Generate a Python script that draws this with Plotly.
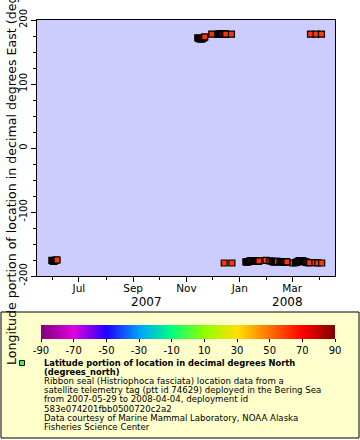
import plotly.graph_objects as go

# ---- data ----
times = [
    "2007-05-31", "2007-06-01", "2007-06-02", "2007-06-03", "2007-06-04", "2007-06-05", "2007-06-06",
    "2007-11-14", "2007-11-15", "2007-11-16", "2007-11-17", "2007-11-18", "2007-11-19", "2007-11-20",
    "2007-11-21", "2007-11-22",
    "2007-11-30",
    "2007-12-07", "2007-12-08", "2007-12-09", "2007-12-10", "2007-12-11", "2007-12-12", "2007-12-13",
    "2007-12-14 06:00", "2007-12-14 18:00", "2007-12-15", "2007-12-16",
    "2007-12-22 12:00", "2007-12-23",
    "2008-01-08", "2008-01-09", "2008-01-10", "2008-01-11", "2008-01-12", "2008-01-13", "2008-01-14",
    "2008-01-15", "2008-01-16", "2008-01-17", "2008-01-18", "2008-01-19", "2008-01-20", "2008-01-21",
    "2008-01-22", "2008-01-23",
    "2008-01-31",
    "2008-02-04 12:00",
    "2008-02-07", "2008-02-08", "2008-02-09", "2008-02-10", "2008-02-11", "2008-02-12", "2008-02-13",
    "2008-02-16", "2008-02-17", "2008-02-18", "2008-02-19", "2008-02-20", "2008-02-21", "2008-02-22",
    "2008-02-23", "2008-02-24",
    "2008-03-02",
    "2008-03-05", "2008-03-06", "2008-03-07", "2008-03-08", "2008-03-09", "2008-03-10", "2008-03-11",
    "2008-03-12", "2008-03-13", "2008-03-14", "2008-03-15", "2008-03-16", "2008-03-17", "2008-03-18",
    "2008-03-19", "2008-03-20", "2008-03-21",
    "2008-03-22",
    "2008-03-27",
    "2008-03-28 12:00",
    "2008-03-30 06:00",
    "2008-04-03 12:00", "2008-04-03 18:00",
]
lons = [
    -175.5, -176.5, -177.0, -176.5, -175.5, -175.0, -175.0,
    172.0, 171.5, 171.0, 170.5, 170.5, 171.0, 171.5,
    172.5, 173.5,
    178.0,
    178.0, 177.5, 178.0, 178.5, 178.0, 177.5, 178.0,
    -179.7, 178.0, 178.0, 178.0,
    178.0, -179.7,
    -178.0, -178.0, -178.0, -177.5, -177.0, -176.5, -176.0,
    -176.0, -176.0, -176.0, -176.5, -177.0, -177.0, -177.0,
    -177.0, -176.5,
    -175.5,
    -176.5,
    -177.0, -177.5, -178.0, -178.0, -177.5, -177.0, -177.0,
    -177.5, -178.0, -178.0, -178.5, -178.0, -177.5, -178.0,
    -178.0, -178.0,
    -179.7,
    -179.0, -178.5, -178.0, -177.0, -176.5, -176.0, -176.0,
    -176.0, -176.5, -177.0, -177.5, -178.0, -178.5, -178.5,
    -179.0, -179.0, -179.0,
    178.0,
    -179.0,
    178.0,
    -179.5,
    178.0, -179.7,
]
lats = [
    59.8, 59.9, 60.0, 60.1, 60.2, 60.2, 60.3,
    60.5, 60.6, 60.6, 60.7, 60.7, 60.8, 60.8,
    60.9, 60.9,
    61.0,
    61.0, 61.0, 61.1, 61.1, 61.1, 61.0, 61.0,
    60.9, 61.0, 61.0, 61.0,
    60.9, 60.9,
    60.8, 60.8, 60.7, 60.7, 60.7, 60.6, 60.6,
    60.6, 60.6, 60.5, 60.5, 60.5, 60.6, 60.6,
    60.6, 60.6,
    60.7,
    60.7,
    60.8, 60.8, 60.8, 60.9, 60.9, 60.9, 60.9,
    61.0, 61.0, 61.0, 61.0, 60.9, 60.9, 60.9,
    60.8, 60.8,
    60.8,
    60.7, 60.7, 60.7, 60.6, 60.6, 60.6, 60.6,
    60.5, 60.5, 60.5, 60.5, 60.4, 60.4, 60.4,
    60.4, 60.3, 60.3,
    60.3,
    60.3,
    60.2,
    60.2,
    60.2, 60.2,
]

cbar_ticks = [-90, -70, -50, -30, -10, 10, 30, 50, 70, 90]
cbar_labels = ["-90", "-70", "-50", "-30", "-10", "10", "30", "50", "70", "90"]
y_ticks = [-200, -100, 0, 100, 200]
y_labels = ["-200", "-100", "0", "100", "200"]
month_fmt = "%b"
year_labels = ["2007", "2008"]
year_label_dates = ["2007-09-16", "2008-02-25"]

y_title = "Longitude portion of location in decimal degrees East (degrees_east)"
legend_bold = ["Latitude portion of location in decimal degrees North", "(degrees_north)"]
legend_lines = [
    "Ribbon seal (Histriophoca fasciata) location data from a",
    "satellite telemetry tag (ptt id 74629) deployed in the Bering Sea",
    "from 2007-05-29 to 2008-04-04, deployment id",
    "583e074201fbb0500720c2a2",
    "Data courtesy of Marine Mammal Laboratory, NOAA Alaska",
    "Fisheries Science Center",
]

rainbow = [
    [0.0, "#800080"], [0.111, "#e000e0"], [0.222, "#2000ff"], [0.333, "#00a0ff"],
    [0.444, "#00ff80"], [0.556, "#90ff00"], [0.667, "#ffe000"], [0.778, "#ff7000"],
    [0.889, "#ff0000"], [1.0, "#800000"],
]

# ---- layout geometry (pixels) ----
W, H = 360, 440
L, R, T, B = 37, 335, 20, 276
FONT = "DejaVu Sans"


def px(xp):
    return (xp - L) / (R - L)


def py(yp):
    return (B - yp) / (B - T)


fig = go.Figure()
fig.add_trace(go.Scatter(
    x=times, y=lons, mode="markers", showlegend=False, hoverinfo="skip",
    marker=dict(
        symbol="square", size=6, color=lats, colorscale=rainbow, cmin=-90, cmax=90,
        line=dict(color="black", width=1.2),
        colorbar=dict(
            orientation="h", thickness=14, thicknessmode="pixels",
            len=294, lenmode="pixels", x=px(188), xanchor="center",
            y=py(325), yanchor="top", outlinewidth=0, xpad=0, ypad=0,
            tickvals=cbar_ticks, ticktext=cbar_labels, ticks="outside", ticklen=3,
            tickcolor="black",
            tickfont=dict(family=FONT, size=10, color="black"),
        ),
    ),
))

annotations = [
    dict(text=y_title, xref="paper", yref="paper", x=px(11), y=py(148), textangle=-90,
         showarrow=False, xanchor="center", yanchor="middle",
         font=dict(family=FONT, size=12.6, color="black")),
]
for lab, d in zip(year_labels, year_label_dates):
    annotations.append(dict(text=lab, xref="x", yref="paper", x=d, y=py(302), showarrow=False,
                            xanchor="center", yanchor="middle",
                            font=dict(family=FONT, size=12, color="black")))
line_y = 363
for t in legend_bold:
    annotations.append(dict(text="<b>" + t + "</b>", xref="paper", yref="paper", x=px(42), y=py(line_y),
                            showarrow=False, xanchor="left", yanchor="middle",
                            font=dict(family=FONT, size=8.35, color="black")))
    line_y += 9.1
for t in legend_lines:
    annotations.append(dict(text=t, xref="paper", yref="paper", x=px(42), y=py(line_y),
                            showarrow=False, xanchor="left", yanchor="middle",
                            font=dict(family=FONT, size=8.6, color="black")))
    line_y += 9.1

shapes = [
    dict(type="rect", xref="paper", yref="paper", x0=px(1), x1=px(359), y0=py(438), y1=py(312),
         fillcolor="#ffffcc", line=dict(color="black", width=1), layer="below"),
    dict(type="rect", xref="paper", yref="paper", x0=px(19.5), x1=px(24.5), y0=py(365.5), y1=py(360.5),
         fillcolor="#33ff33", line=dict(color="black", width=1), layer="above"),
]

fig.update_layout(
    width=W, height=H, margin=dict(l=L, r=W - R, t=T, b=H - B, pad=0, autoexpand=False),
    paper_bgcolor="white", plot_bgcolor="#ccccff",
    font=dict(family=FONT, color="black"),
    annotations=annotations, shapes=shapes, hovermode=False,
    xaxis=dict(
        type="date", range=["2007-05-14", "2008-04-19"], showline=True, linecolor="black",
        linewidth=1, mirror=True, ticks="outside", ticklen=5, tickcolor="black",
        dtick="M2", tick0="2007-01-01", tickformat=month_fmt, showgrid=False, zeroline=False,
        ticklabelstandoff=-3,
        tickfont=dict(family=FONT, size=10.5, color="black"),
        minor=dict(dtick="M1", tick0="2007-01-01", ticks="outside", ticklen=3,
                   tickcolor="black", showgrid=False),
    ),
    yaxis=dict(
        range=[-200, 200], tickvals=y_ticks, ticktext=y_labels, tickangle=-90, showline=True,
        linecolor="black", linewidth=1, mirror=True, ticks="outside", ticklen=5,
        tickcolor="black", showgrid=False, zeroline=False,
        tickfont=dict(family=FONT, size=10, color="black"),
        minor=dict(dtick=25, ticks="outside", ticklen=3, tickcolor="black", showgrid=False),
    ),
)

fig.write_html(
    "out.html",
    config={"displayModeBar": False, "staticPlot": True},
    post_script="document.body.style.margin='0';document.body.style.padding='0';",
)
